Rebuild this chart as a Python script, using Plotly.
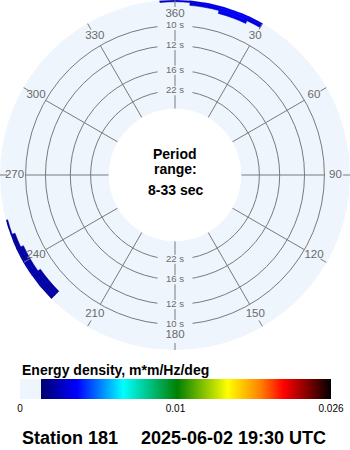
import numpy as np
import plotly.graph_objects as go

# ---------------- data ----------------
freq_edges = [0.1125, 0.1150, 0.1175, 0.1200, 0.1225, 0.1250]   # Hz bin edges (8.0 - 8.9 s)
dir_centers = [357.5, 2.5, 7.5, 12.5, 17.5, 22.5, 27.5,
               227.5, 232.5, 237.5, 242.5, 247.5, 252.5]          # deg (direction bins, 5 deg)
energy = [
    [0, 0, 0, 0.0027, 0.0027],
    [0, 0, 0, 0.0029, 0.0030],
    [0, 0, 0.0030, 0.0031, 0.0032],
    [0, 0, 0.0032, 0.0033, 0.0034],
    [0, 0.0033, 0.0034, 0.0035, 0.0035],
    [0, 0.0033, 0.0035, 0.0036, 0.0036],
    [0, 0, 0.0030, 0.0033, 0.0034],
    [0.0021, 0.0022, 0.0022, 0.0021, 0],
    [0.0022, 0.0023, 0.0023, 0.0023, 0.0022],
    [0, 0.0023, 0.0023, 0.0023, 0.0022],
    [0, 0.0022, 0.0022, 0.0022, 0.0021],
    [0, 0, 0.0021, 0.0021, 0.0021],
    [0, 0, 0, 0.0020, 0.0020],
]
dir_width = 5

period_ticks = [10, 12, 16, 22]
period_labels = ["10 s", "12 s", "16 s", "22 s"]
period_min, period_max = 8, 33

angle_ticks = [0, 30, 60, 90, 120, 150, 180, 210, 240, 270, 300, 330]
angle_labels = ["360", "30", "60", "90", "120", "150", "180", "210", "240", "270", "300", "330"]

cbar_values = [0, 0.01, 0.026]
cbar_labels = ["0", "0.01", "0.026"]

station = "Station 181"
timestamp = "2025-06-02 19:30 UTC"

# ---------------- style ----------------
BG = "#EEF5FD"
GRID = "#7a7a7a"
LBL = "#6a6a6a"
f_inner = 1.0 / 33.0
f_outer = 0.12146
hole = 0.3788

colorscale = [
    [0.0, BG], [0.068, BG], [0.068, "#00006E"], [0.184, "#0000FF"],
    [0.332, "#00FFFF"], [0.506, "#008000"], [0.668, "#FFFF00"],
    [0.774, "#FF8000"], [0.848, "#FF0000"], [0.93, "#7A0000"], [1.0, "#000000"],
]
cb_pos = [0.0, 0.5, 1.0]


def norm(v):
    return float(np.interp(v, cbar_values, cb_pos))


th, base, rr, col = [], [], [], []
for d, row in zip(dir_centers, energy):
    for j, e in enumerate(row):
        if e > 0:
            th.append(d)
            base.append(freq_edges[j])
            rr.append(freq_edges[j + 1] - freq_edges[j])
            col.append(norm(e))

fig = go.Figure()

# spokes and outer ticks
sp_r, sp_t = [], []
for a in angle_ticks:
    sp_r += [f_inner, 1.0 / period_ticks[0], None, 0.1156, f_outer, None]
    sp_t += [a, a, None, a, a, None]
fig.add_trace(go.Scatterpolar(r=sp_r, theta=sp_t, mode="lines",
                              line=dict(color=GRID, width=1), hoverinfo="skip",
                              showlegend=False))

fig.add_trace(go.Barpolar(
    r=rr, base=base, theta=th, width=[dir_width] * len(th),
    marker=dict(color=col, colorscale=colorscale, cmin=0, cmax=1,
                line=dict(width=0.6, color=col, colorscale=colorscale, cmin=0, cmax=1),
                showscale=True,
                colorbar=dict(orientation="h", x=20 / 350, xanchor="left", len=311 / 350,
                              lenmode="fraction", y=1 - 379 / 450, yanchor="top",
                              thickness=20, xpad=0, ypad=0, outlinewidth=0,
                              tickvals=cb_pos, ticktext=cbar_labels, ticks="",
                              tickfont=dict(family="Liberation Sans, Arial", size=10, color="black"))),
    showlegend=False, hoverinfo="skip"))

# radial period labels (with masking background)
lr, lt, ltx = [], [], []
for p, s in zip(period_ticks, period_labels):
    for a in (0, 180):
        lr.append(1.0 / p)
        lt.append(a)
        ltx.append(s)
fig.add_trace(go.Scatterpolar(r=lr, theta=lt, text=ltx, mode="markers+text",
                              textposition="middle center",
                              marker=dict(symbol="line-ew", size=25,
                                          line=dict(color=BG, width=9)),
                              textfont=dict(family="Liberation Sans Narrow, Arial Narrow, sans-serif",
                                            size=9.5, color=LBL),
                              hoverinfo="skip", showlegend=False))

# angular labels
fig.add_trace(go.Scatterpolar(r=[0.1093] * len(angle_ticks), theta=angle_ticks,
                              text=angle_labels, mode="text", textposition="middle center",
                              textfont=dict(family="Liberation Sans Narrow, Arial Narrow, sans-serif",
                                            size=11.5, color=LBL),
                              hoverinfo="skip", showlegend=False))

fig.update_layout(
    width=350, height=450, margin=dict(l=0, r=0, t=0, b=0),
    paper_bgcolor="white", plot_bgcolor="white", showlegend=False,
    polar=dict(
        domain=dict(x=[0, 1], y=[100 / 450, 1]),
        bgcolor=BG, hole=hole, bargap=0,
        radialaxis=dict(range=[f_inner, f_outer], tickvals=[1.0 / p for p in period_ticks],
                        showticklabels=False, ticks="", showline=False,
                        gridcolor=GRID, gridwidth=1),
        angularaxis=dict(direction="clockwise", rotation=90, showgrid=False,
                         showticklabels=False, ticks="", showline=False),
    ),
)

ann = [
    dict(text="<b>Period</b>", x=0.5, y=1 - 154 / 450, size=14),
    dict(text="<b>range:</b>", x=0.5, y=1 - 169 / 450, size=14),
    dict(text="<b>%d-%d sec</b>" % (period_min, period_max), x=0.5, y=1 - 190 / 450, size=14),
]
for a in ann:
    fig.add_annotation(text=a["text"], x=a["x"], y=a["y"], xref="paper", yref="paper",
                       xanchor="center", yanchor="middle", showarrow=False,
                       font=dict(family="Liberation Sans, Arial", size=a["size"], color="black"))

fig.add_annotation(text="<b>Energy density, m*m/Hz/deg</b>", x=20 / 350, y=1 - 370 / 450,
                   xref="paper", yref="paper", xanchor="left", yanchor="middle", showarrow=False,
                   font=dict(family="Liberation Sans, Arial", size=14, color="black"))
fig.add_annotation(text="<b>%s</b>" % station, x=20 / 350, y=1 - 438 / 450,
                   xref="paper", yref="paper", xanchor="left", yanchor="middle", showarrow=False,
                   font=dict(family="Liberation Sans, Arial", size=18, color="black"))
fig.add_annotation(text="<b>%s</b>" % timestamp, x=139 / 350, y=1 - 438 / 450,
                   xref="paper", yref="paper", xanchor="left", yanchor="middle", showarrow=False,
                   font=dict(family="Liberation Sans, Arial", size=18, color="black"))

fig.write_html("out.html")
